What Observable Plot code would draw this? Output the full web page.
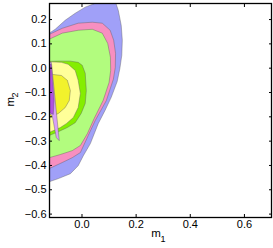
<!DOCTYPE html>
<html><head><meta charset="utf-8">
<script src="https://cdn.jsdelivr.net/npm/d3@7"></script>
<script src="https://cdn.jsdelivr.net/npm/@observablehq/plot@0.6"></script>
<style>body{margin:0;background:#fff}</style>
</head><body><div id="chart"></div>
<script>
const xTicks = [0, 0.2, 0.4, 0.6];
const yTicks = [-0.6, -0.5, -0.4, -0.3, -0.2, -0.1, 0, 0.1, 0.2];

const blue = [[-0.135,0.144],[-0.121,0.144],[-0.099,0.160],[-0.062,0.197],[-0.025,0.226],[0.012,0.251],[0.049,0.267],[0.086,0.288],[0.119,0.288],[0.134,0.238],[0.145,0.176],[0.149,0.115],[0.147,0.053],[0.140,-0.001],[0.130,-0.055],[0.108,-0.120],[0.085,-0.174],[0.060,-0.228],[0.031,-0.310],[0.005,-0.360],[-0.014,-0.401],[-0.043,-0.434],[-0.087,-0.454],[-0.121,-0.467],[-0.135,-0.467]];
const pink = [[-0.135,0.139],[-0.121,0.139],[-0.073,0.164],[-0.014,0.185],[0.038,0.189],[0.075,0.185],[0.104,0.156],[0.117,0.115],[0.124,0.061],[0.123,0.003],[0.116,-0.045],[0.090,-0.133],[0.049,-0.215],[0.023,-0.277],[-0.006,-0.347],[-0.036,-0.368],[-0.073,-0.388],[-0.121,-0.413],[-0.135,-0.413]];
const lightGreen = [[-0.135,0.119],[-0.121,0.119],[-0.073,0.144],[-0.014,0.156],[0.038,0.160],[0.075,0.144],[0.095,0.102],[0.105,0.045],[0.106,-0.009],[0.100,-0.059],[0.078,-0.133],[0.045,-0.207],[0.020,-0.269],[-0.006,-0.318],[-0.036,-0.339],[-0.080,-0.355],[-0.121,-0.368],[-0.135,-0.368]];
const brightGreen = [[-0.135,0.028],[-0.121,0.028],[-0.087,0.029],[-0.043,0.029],[-0.014,0.024],[0.001,0.012],[0.012,-0.021],[0.016,-0.092],[0.012,-0.145],[-0.003,-0.186],[-0.025,-0.224],[-0.054,-0.244],[-0.087,-0.261],[-0.121,-0.277],[-0.135,-0.277]];
const paleYellow = [[-0.135,0.026],[-0.113,0.026],[-0.076,0.024],[-0.051,0.016],[-0.025,-0.009],[-0.014,-0.050],[-0.006,-0.104],[-0.014,-0.162],[-0.032,-0.203],[-0.058,-0.228],[-0.080,-0.244],[-0.121,-0.264],[-0.135,-0.264]];
const brightYellow = [[-0.135,-0.026],[-0.106,-0.026],[-0.076,-0.030],[-0.054,-0.050],[-0.043,-0.092],[-0.047,-0.133],[-0.062,-0.162],[-0.087,-0.186],[-0.121,-0.203],[-0.135,-0.203]];
const lavender = [[-0.121,0.024],[-0.113,0.024],[-0.084,-0.298],[-0.095,-0.285],[-0.110,-0.195],[-0.121,-0.186]];
const purple = [[-0.121,0.016],[-0.113,0.016],[-0.103,-0.133],[-0.106,-0.190],[-0.121,-0.182]];

const regions = [
  {pts: blue, color: "#a0a0f8"},
  {pts: pink, color: "#f78fc0"},
  {pts: lightGreen, color: "#b2fc7e"},
  {pts: brightGreen, color: "#84ee00"},
  {pts: paleYellow, color: "#ffff99"},
  {pts: brightYellow, color: "#f2f22c"},
  {pts: lavender, color: "#d8a0f8"},
  {pts: purple, color: "#b050e0"}
];

const close = pts => [...pts, pts[0]];

const marks = regions.map(r => Plot.line(close(r.pts), {
  x: d => d[0], y: d => d[1], fill: r.color, stroke: "#5a5a5a",
  strokeWidth: 0.5, strokeOpacity: 0.8, curve: "linear", clip: true
}));

const chart = Plot.plot({
  width: 273, height: 248,
  marginLeft: 49, marginRight: 2, marginTop: 3, marginBottom: 31,
  style: {fontFamily: "'Liberation Sans', Arial, sans-serif", fontSize: "11px", background: "#fff"},
  x: {domain: [-0.12, 0.7]},
  y: {domain: [-0.614, 0.266]},
  marks: [
    ...marks,
    Plot.axisX(xTicks, {anchor: "bottom", tickSize: 0, tickPadding: 3, label: null, fontSize: 11}),
    Plot.axisY(yTicks, {anchor: "left", tickSize: 0, tickPadding: 3, label: null, fontSize: 11}),
    Plot.axisX(xTicks, {anchor: "bottom", tickSize: 3, dy: -3, tickFormat: () => "", label: null}),
    Plot.axisX(xTicks, {anchor: "top", tickSize: 3, dy: 3, tickFormat: () => "", label: null}),
    Plot.axisY(yTicks, {anchor: "left", tickSize: 3, dx: 3, tickFormat: () => "", label: null}),
    Plot.axisY(yTicks, {anchor: "right", tickSize: 3, dx: -3, tickFormat: () => "", label: null}),
    Plot.frame({stroke: "black", strokeWidth: 1.3}),
    Plot.text(["m"], {text: d => d, frameAnchor: "bottom", dx: -4.5, dy: 15.5, fontSize: 11.5, lineAnchor: "middle"}),
    Plot.text(["1"], {text: d => d, frameAnchor: "bottom", dx: 2.5, dy: 22, fontSize: 9, lineAnchor: "middle"}),
    Plot.text(["m"], {text: d => d, frameAnchor: "left", dx: -39, dy: -4, rotate: -90, fontSize: 11.5, lineAnchor: "middle"}),
    Plot.text(["2"], {text: d => d, frameAnchor: "left", dx: -34, dy: -13, rotate: -90, fontSize: 9, lineAnchor: "middle"})
  ]
});
document.getElementById("chart").appendChild(chart);
</script>
</body></html>
